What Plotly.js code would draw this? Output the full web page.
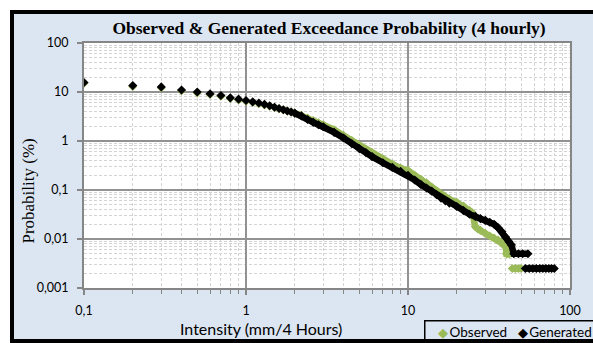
<!DOCTYPE html>
<html><head><meta charset="utf-8">
<script src="https://cdn.plot.ly/plotly-3.0.1.min.js"></script>
<style>
html,body{margin:0;padding:0;background:#fff;overflow:hidden}
#clip{position:absolute;left:0;top:0;width:593px;height:343px;overflow:hidden;background:#fff}
.bar{position:absolute;background:#000}
#chart{position:absolute;left:14px;top:14px;width:600px;height:325px}
</style></head><body>
<div id="clip">
  <div class="bar" style="left:10px;top:10px;width:700px;height:4px"></div>
  <div class="bar" style="left:10px;top:10px;width:4px;height:340px"></div>
  <div class="bar" style="left:10px;top:339px;width:700px;height:10px"></div>
  <div id="chart"></div>
</div>
<script>
const titleText = 'Observed & Generated Exceedance Probability (4 hourly)';
const xTitle = 'Intensity (mm/4 Hours)';
const yTitle = 'Probability (%)';
const seriesNames = ['Observed', 'Generated'];

const xTickVals = [0.1, 1, 10, 100];
const xTickText = ['0,1', '1', '10', '100'];
const yTickVals = [0.001, 0.01, 0.1, 1, 10, 100];
const yTickText = ['0,001', '0,01', '0,1', '1', '10', '100'];

const obsX = [0.1,0.2,0.3,0.4,0.5,0.6,0.7,0.8,0.9,1.0,1.1,1.2,1.3,1.4,1.5,1.6,1.7,1.8,1.9,2.0,
  2.2,2.4,2.6,2.8,3.0,3.5,4,4.5,5,5.5,6,7,8,9,10,11,12,13,14,15,16,17,18,20,22,24,25,26,27,28,30,32,34,36,38,39,40,40.5,41.5,42.5,null,44,46,48,50];
const obsY = [15.2,13.0,12.2,10.6,9.6,8.9,8.2,7.4,6.9,6.5,6.1,5.75,5.45,5.15,4.85,4.55,4.3,4.1,3.9,3.72,
  3.35,2.95,2.6,2.35,2.15,1.7,1.3,1.02,0.82,0.68,0.57,0.43,0.34,0.28,0.25,0.2,0.165,0.14,0.115,0.095,0.082,0.072,0.065,0.056,0.047,0.038,0.034,0.018,0.016,0.015,0.013,0.0115,0.0105,0.0095,0.0082,0.0075,0.0075,0.005,0.005,0.005,null,0.0025,0.0025,0.0025,0.0025];

const genX = [0.1,0.2,0.3,0.4,0.5,0.6,0.7,0.8,0.9,1.0,1.1,1.2,1.3,1.4,1.5,1.6,1.7,1.8,1.9,2.0,
  2.2,2.4,2.6,2.8,3.0,3.5,4.0,4.5,5,5.5,6,7,8,9,10,11,12,13,14,15,16,17,18,20,22,24,26,28,30,32,34,36,38,40,42,43.5,45,48,51,55,null,53,56,59,62,65,68,71,74,77,80];
const genY = [15.6,13.5,12.7,11.0,10.0,9.2,8.5,7.6,7.15,6.7,6.3,5.95,5.6,5.25,4.9,4.6,4.35,4.1,3.9,3.7,
  3.25,2.75,2.4,2.15,1.95,1.5,1.15,0.88,0.7,0.58,0.48,0.36,0.29,0.24,0.2,0.16,0.13,0.11,0.095,0.08,0.068,0.06,0.054,0.046,0.038,0.032,0.029,0.026,0.024,0.022,0.02,0.017,0.014,0.011,0.0088,0.0075,0.005,0.005,0.005,0.005,null,0.0025,0.0025,0.0025,0.0025,0.0025,0.0025,0.0025,0.0025,0.0025,0.0025];

const green = '#9bbb59';
const black = '#000000';

function bandPart(xs, ys, minX) {
  const bx = [], by = [];
  xs.forEach((v, i) => { if (v === null || v >= minX) { bx.push(v); by.push(ys[i]); } });
  return {x: bx, y: by};
}
const obsBand = bandPart(obsX, obsY, 2);
const genBand = bandPart(genX, genY, 2);

const traces = [
  {x: obsBand.x, y: obsBand.y, mode: 'lines', line: {color: green, width: 6.5}, showlegend: false, hoverinfo: 'skip'},
  {x: obsX, y: obsY, mode: 'markers', name: seriesNames[0], marker: {symbol: 'diamond', size: 7, color: green}},
  {x: genBand.x, y: genBand.y, mode: 'lines', line: {color: black, width: 6.5}, showlegend: false, hoverinfo: 'skip'},
  {x: genX, y: genY, mode: 'markers', name: seriesNames[1], marker: {symbol: 'diamond', size: 7, color: black}}
];

function minorVals(lo, hi) {
  const out = [];
  for (let e = lo; e < hi; e++) for (let d = 2; d <= 9; d++) out.push(d * Math.pow(10, e));
  return out;
}

const gridMajor = '#929292';
const gridMinor = '#d4d4d4';
const sans = 'Lato, "Open Sans", sans-serif';
const serif = '"Liberation Serif", "Times New Roman", serif';
const tickFont = {family: sans, size: 12.5, color: '#000'};

const layout = {
  width: 600, height: 325,
  margin: {l: 69.5, r: 44, t: 29, b: 51},
  paper_bgcolor: '#dce6f2',
  plot_bgcolor: '#ffffff',
  showlegend: false,
  title: {text: '<b>' + titleText.replace('&', '&amp;') + '</b>', font: {family: serif, size: 17.5, color: '#000'},
    x: 315 / 600, xanchor: 'center', xref: 'container', y: 1 - 14 / 325, yanchor: 'middle', yref: 'container'},
  xaxis: {
    type: 'log', range: [-1, 2],
    tickmode: 'array', tickvals: xTickVals, ticktext: xTickText,
    ticks: 'outside', ticklen: 5, tickcolor: '#868686', tickwidth: 1.5,
    ticklabelstandoff: 5,
    showline: true, linecolor: '#868686', linewidth: 2, mirror: true,
    showgrid: true, gridcolor: gridMajor, gridwidth: 1.8,
    zeroline: false,
    tickfont: tickFont,
    minor: {tickmode: 'array', tickvals: minorVals(-1, 2), showgrid: true, gridcolor: gridMinor, griddash: '3px,2px', gridwidth: 1,
      ticks: 'outside', ticklen: 4, tickcolor: '#868686', tickwidth: 1}
  },
  yaxis: {
    type: 'log', range: [-3, 2],
    tickmode: 'array', tickvals: yTickVals, ticktext: yTickText,
    ticks: 'outside', ticklen: 5, tickcolor: '#868686', tickwidth: 1.5,
    ticklabelstandoff: 6,
    showline: true, linecolor: '#868686', linewidth: 2, mirror: true,
    showgrid: true, gridcolor: gridMajor, gridwidth: 1.8,
    zeroline: false,
    tickfont: tickFont,
    minor: {tickmode: 'array', tickvals: minorVals(-3, 2), showgrid: true, gridcolor: gridMinor, griddash: '3px,2px', gridwidth: 1, ticks: ''}
  },
  annotations: [
    {text: yTitle, xref: 'paper', yref: 'paper', x: (13 - 69.5) / 486.5, y: (274 - 177) / 245,
      xanchor: 'center', yanchor: 'middle', textangle: -90, showarrow: false,
      font: {family: serif, size: 17, color: '#000'}},
    {text: xTitle, xref: 'paper', yref: 'paper', x: (247 - 69.5) / 486.5, y: (274 - 314.3) / 245,
      xanchor: 'center', yanchor: 'middle', showarrow: false,
      font: {family: sans, size: 16, color: '#000'}},
    {text: '&nbsp;&nbsp;&nbsp;<span style="color:' + green + ';font-size:13px">◆</span>&#8201;' + seriesNames[0] +
           '&nbsp;&nbsp;&nbsp;<span style="color:' + black + ';font-size:13px">◆</span>&#8201;' + seriesNames[1],
      xref: 'paper', yref: 'paper', x: (410 - 69.5) / 486.5, y: (274 - 306) / 245,
      xanchor: 'left', yanchor: 'top', align: 'left', width: 225, showarrow: false,
      bordercolor: '#000', borderwidth: 1.5, borderpad: 2, bgcolor: 'rgba(0,0,0,0)',
      font: {family: sans, size: 13.5, color: '#000'}}
  ]
};

Plotly.newPlot('chart', traces, layout, {displayModeBar: false, staticPlot: true});
</script>
</body></html>
